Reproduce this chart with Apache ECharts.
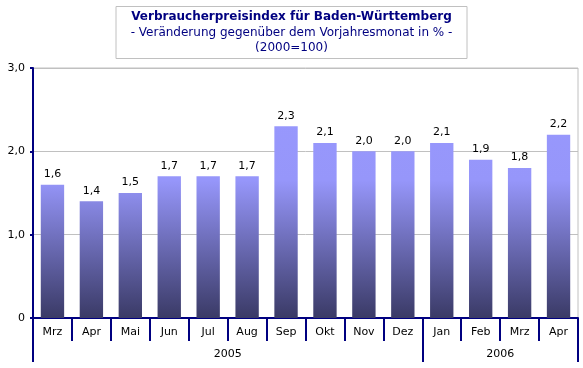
<!DOCTYPE html>
<html><head><meta charset="utf-8">
<script src="https://cdn.jsdelivr.net/npm/echarts@6/dist/echarts.min.js"></script>
<style>html,body{margin:0;padding:0;background:#fff}#c{width:583px;height:368px}</style>
</head><body><div id="c"></div>
<script>
var months = ['Mrz','Apr','Mai','Jun','Jul','Aug','Sep','Okt','Nov','Dez','Jan','Feb','Mrz','Apr'];
var values = [1.6,1.4,1.5,1.7,1.7,1.7,2.3,2.1,2.0,2.0,2.1,1.9,1.8,2.2];
var years = ['2005','2006'];
var yearStarts = [0,10,14];
var yearCenters = [5,12];
var yTicks = [0,1,2,3];

var FONT = 'DejaVu Sans';
var NAVY = '#000080';
function fmt(v){ return v === 0 ? '0' : v.toFixed(1).replace('.', ','); }

var chart = echarts.init(document.getElementById('c'), null, {renderer:'canvas'});
chart.setOption({
  animation:false,
  backgroundColor:'#fff',
  title:{
    text:'Verbraucherpreisindex für Baden-Württemberg',
    subtext:'- Veränderung gegenüber dem Vorjahresmonat in % -\n(2000=100)',
    left:'center', top:6,
    padding:[3,15,4,15], itemGap:1,
    borderColor:'#c0c0c0', borderWidth:1,
    textStyle:{fontFamily:FONT, fontSize:12, fontWeight:'bold', color:NAVY, lineHeight:15},
    subtextStyle:{fontFamily:FONT, fontSize:12, color:NAVY, lineHeight:15}
  },
  grid:{left:33, right:5, top:68, bottom:50, show:true, borderColor:'#c0c0c0', borderWidth:1, containLabel:false},
  xAxis:[{
    type:'category', data:months, position:'bottom',
    axisLine:{lineStyle:{color:NAVY, width:2}},
    axisTick:{show:true, interval:0, length:23, lineStyle:{color:NAVY, width:2}},
    axisLabel:{interval:0, margin:9, fontFamily:FONT, fontSize:11, color:'#000'}
  },{
    type:'value', min:0, max:14, position:'bottom',
    axisLine:{show:false},
    splitLine:{show:false},
    axisTick:{show:true, length:44, customValues:yearStarts, lineStyle:{color:NAVY, width:2}},
    axisLabel:{customValues:yearCenters, margin:31, fontFamily:FONT, fontSize:11, color:'#000',
      formatter:function(v){ return years[yearCenters.indexOf(v)]; }}
  }],
  yAxis:{
    type:'value', min:0, max:3, interval:0.5,
    axisLine:{show:true, lineStyle:{color:NAVY, width:2}},
    axisTick:{show:true, length:3, customValues:yTicks, lineStyle:{color:NAVY, width:2}},
    axisLabel:{customValues:yTicks, margin:8, fontFamily:FONT, fontSize:11, color:'#000', formatter:fmt},
    splitLine:{show:true, lineStyle:{color:'#c0c0c0', width:1}}
  },
  series:[{
    type:'bar', data:values, xAxisIndex:0, barWidth:'60%',
    itemStyle:{color:new echarts.graphic.LinearGradient(0,68,0,318,[
      {offset:0,color:'#9999ff'},{offset:0.45,color:'#9696fa'},{offset:1,color:'#3a3a66'}], true)},
    label:{show:true, position:'top', distance:5, fontFamily:FONT, fontSize:11, color:'#000',
      formatter:function(p){ return fmt(p.value); }}
  }]
});
</script></body></html>
